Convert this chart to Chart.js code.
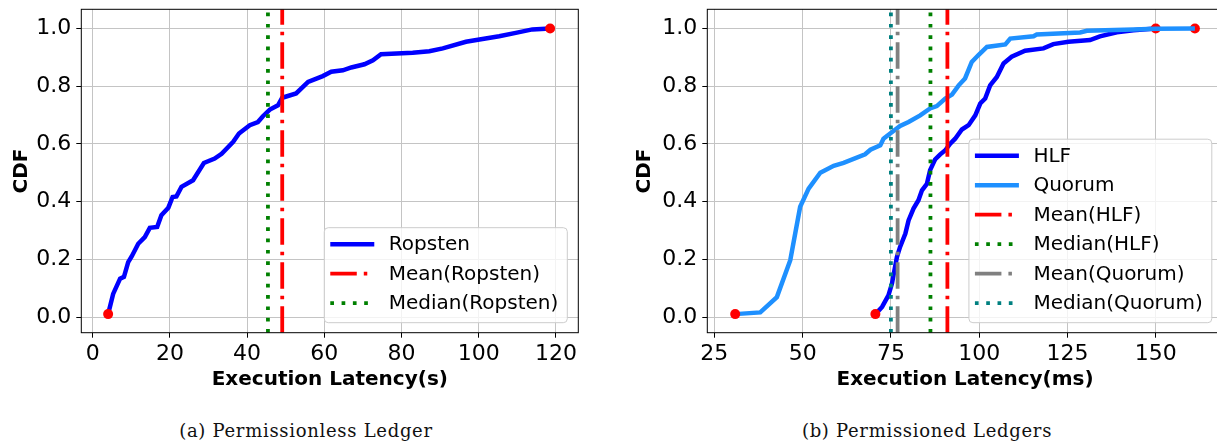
<!DOCTYPE html>
<html>
<head>
<meta charset="utf-8">
<script src="https://cdn.jsdelivr.net/npm/chart.js@4.4.4/dist/chart.umd.min.js"></script>
<style>
  html, body { margin: 0; padding: 0; background: #fff; overflow: hidden; width: 1217px; height: 445px; }
  canvas { position: absolute; top: 0; }
  #cA { left: 0; }
  #cB { left: 620px; }
  .cap { position: absolute; top: 420px; font-family: "DejaVu Serif", serif; font-size: 18px; letter-spacing: 0.7px; color: #111; white-space: nowrap; transform: translateX(-50%); }
</style>
</head>
<body>
<canvas id="cA" width="600" height="400"></canvas>
<canvas id="cB" width="620" height="400"></canvas>
<div class="cap" style="left:306px">(a) Permissionless Ledger</div>
<div class="cap" style="left:927px">(b) Permissioned Ledgers</div>
<script>
// ---- data ----
const ropX = [4.0, 5.3, 7.1, 8.1, 9.2, 10.1, 11.8, 13.5, 14.8, 16.7, 17.8, 19.6, 20.7, 21.7, 23.0, 26.0, 28.8, 31.6, 33.4, 36.4, 37.9, 40.7, 42.8, 44.1, 45.9, 48.0, 49.1, 52.7, 55.8, 59.6, 61.8, 64.8, 67.0, 70.4, 72.6, 74.7, 82.9, 87.2, 90.7, 96.7, 100.2, 105.3, 109.6, 113.9, 118.5];
const ropY = [0.01, 0.08, 0.133, 0.139, 0.19, 0.21, 0.254, 0.277, 0.309, 0.312, 0.353, 0.379, 0.416, 0.418, 0.451, 0.474, 0.534, 0.549, 0.566, 0.607, 0.636, 0.665, 0.676, 0.696, 0.719, 0.734, 0.760, 0.775, 0.815, 0.835, 0.850, 0.855, 0.865, 0.876, 0.890, 0.911, 0.916, 0.921, 0.931, 0.954, 0.962, 0.973, 0.985, 0.997, 1.0];
const ropMean = 49.1;
const ropMedian = 45.4;
const ropDotX = [4.0, 118.5];
const ropDotY = [0.01, 1.0];

const hlfX = [70.6, 72.5, 74.3, 75.3, 76.7, 77.6, 79.1, 80.0, 81.4, 82.8, 83.8, 85.2, 86.1, 87.5, 88.9, 90.4, 91.8, 93.2, 95.1, 97.0, 98.9, 100.3, 101.7, 103.1, 105.0, 106.9, 109.2, 113.0, 118.2, 121.0, 125.3, 131.4, 134.2, 139.0, 143.7, 150.0];
const hlfY = [0.01, 0.035, 0.075, 0.116, 0.208, 0.243, 0.289, 0.335, 0.376, 0.405, 0.439, 0.462, 0.509, 0.546, 0.563, 0.578, 0.601, 0.618, 0.650, 0.665, 0.699, 0.740, 0.757, 0.803, 0.832, 0.879, 0.902, 0.923, 0.931, 0.946, 0.954, 0.960, 0.973, 0.987, 0.994, 1.0];
const quoX = [30.9, 38.0, 42.7, 46.5, 49.3, 51.7, 55.0, 58.8, 61.6, 67.7, 69.2, 72.0, 72.9, 74.8, 77.6, 80.0, 83.3, 86.1, 88.0, 90.4, 92.3, 94.2, 96.0, 97.9, 99.8, 102.2, 107.4, 108.8, 115.4, 116.3, 128.6, 130.5, 143.7, 150.0, 161.1];
const quoY = [0.01, 0.016, 0.069, 0.197, 0.382, 0.445, 0.50, 0.524, 0.534, 0.564, 0.580, 0.595, 0.618, 0.636, 0.662, 0.676, 0.699, 0.723, 0.731, 0.757, 0.771, 0.803, 0.827, 0.884, 0.908, 0.936, 0.945, 0.965, 0.973, 0.979, 0.986, 0.992, 0.997, 0.999, 1.0];
const hlfMean = 91.0;
const hlfMedian = 86.2;
const quoMean = 76.9;
const quoMedian = 75.0;
const lowDotX = [30.9, 70.6];
const lowDotY = [0.01, 0.01];
const topDotX = [150.0, 161.1];
const topDotY = [1.0, 1.0];

const xTicksA = [0, 20, 40, 60, 80, 100, 120];
const xTicksB = [25, 50, 75, 100, 125, 150];
const yTicks = [0.0, 0.2, 0.4, 0.6, 0.8, 1.0];
const yMin = -0.0544, yMax = 1.0666;

// ---- helpers ----
Chart.defaults.font.family = '"DejaVu Sans", sans-serif';
Chart.defaults.color = '#000';

const pts = (xs, ys) => xs.map((x, i) => ({ x: x, y: ys[i] }));
const vline = x => [{ x: x, y: yMin }, { x: x, y: yMax }];

const DASHDOT = [26.5, 7, 3.5, 7];
const DOTTED = [3.7, 7.6];

function curve(label, data, color, order) {
  return { label, data, borderColor: color, backgroundColor: color, borderWidth: 4.5, showLine: true, pointRadius: 0, order };
}
function marker(label, x, color, dash, order) {
  return { label, data: vline(x), borderColor: color, backgroundColor: color, borderWidth: 3.8, borderDash: dash, showLine: true, pointRadius: 0, clip: 0, order };
}
function dots(data, order) {
  return { data, showLine: false, pointRadius: 5, pointHoverRadius: 5, pointBackgroundColor: 'red', pointBorderColor: 'red', pointBorderWidth: 0, order };
}

// matplotlib-like legend box inside the plot + full axes frame
const frameLegend = {
  id: 'frameLegend',
  afterDatasetsDraw(chart) {
    const { ctx, chartArea: a } = chart;
    const items = chart.data.datasets.filter(d => d.label);
    ctx.save();
    ctx.font = '20px "DejaVu Sans"';
    const rowH = 29.5, handle = 44, pad = 6, gap = 14.5;
    const textW = Math.max(...items.map(d => ctx.measureText(d.label).width));
    const w = pad + handle + gap + textW + 9;
    const h = items.length * rowH + 6.5;
    const x0 = a.right - 11 - w, y0 = a.bottom - 10 - h;
    ctx.beginPath();
    ctx.roundRect(x0, y0, w, h, 4);
    ctx.fillStyle = 'rgba(255,255,255,0.8)';
    ctx.fill();
    ctx.strokeStyle = '#cccccc';
    ctx.lineWidth = 1;
    ctx.stroke();
    items.forEach((d, i) => {
      const cy = y0 + 16.5 + i * rowH;
      ctx.beginPath();
      ctx.setLineDash(d.borderDash || []);
      ctx.lineWidth = d.borderWidth;
      ctx.strokeStyle = d.borderColor;
      ctx.moveTo(x0 + pad, cy);
      ctx.lineTo(x0 + pad + handle, cy);
      ctx.stroke();
      ctx.setLineDash([]);
      ctx.fillStyle = '#000';
      ctx.textBaseline = 'middle';
      ctx.fillText(d.label, x0 + pad + handle + gap, cy + 1);
    });
    ctx.strokeStyle = '#000';
    ctx.lineWidth = 1;
    ctx.strokeRect(a.left, a.top, a.width, a.height);
    ctx.restore();
  }
};

function makeChart(id, datasets, xMin, xMax, xTicks, xTitle, yWidth, yTitlePad, rightPad) {
  return new Chart(document.getElementById(id), {
    type: 'scatter',
    data: { datasets },
    options: {
      responsive: false,
      animation: false,
      layout: { padding: { top: 9.3, right: rightPad, left: 0, bottom: 0 } },
      plugins: { legend: { display: false }, tooltip: { enabled: false } },
      elements: { line: { tension: 0 } },
      scales: {
        x: {
          type: 'linear', min: xMin, max: xMax,
          afterBuildTicks: s => { s.ticks = xTicks.map(v => ({ value: v })); },
          afterFit: s => { s.height = 67.3; s.paddingLeft = 0; s.paddingRight = 0; },
          ticks: { font: { size: 22 }, padding: 3, maxRotation: 0, callback: v => String(v) },
          grid: { color: '#c4c4c4', lineWidth: 1, tickLength: 5, tickColor: '#000' },
          border: { display: false },
          title: { display: true, text: xTitle, font: { size: 20, weight: 'bold' }, padding: { top: 0, bottom: 8 } }
        },
        y: {
          type: 'linear', min: yMin, max: yMax,
          afterBuildTicks: s => { s.ticks = yTicks.map(v => ({ value: v })); },
          afterFit: s => { s.width = yWidth; s.paddingTop = 0; s.paddingBottom = 0; },
          ticks: { font: { size: 22 }, padding: 5, callback: v => v.toFixed(1) },
          grid: { color: '#c4c4c4', lineWidth: 1, tickLength: 5, tickColor: '#000' },
          border: { display: false },
          title: { display: true, text: 'CDF', font: { size: 20, weight: 'bold' }, padding: { top: yTitlePad, bottom: 0 } }
        }
      }
    },
    plugins: [frameLegend]
  });
}

makeChart('cA', [
  curve('Ropsten', pts(ropX, ropY), 'blue', 5),
  marker('Mean(Ropsten)', ropMean, 'red', DASHDOT, 3),
  marker('Median(Ropsten)', ropMedian, 'green', DOTTED, 2),
  dots(pts(ropDotX, ropDotY), 1)
], -2.95, 125.8, xTicksA, 'Execution Latency(s)', 81.3, 10, 21.7);

makeChart('cB', [
  curve('HLF', pts(hlfX, hlfY), 'blue', 8),
  curve('Quorum', pts(quoX, quoY), '#1e90ff', 6),
  marker('Mean(HLF)', hlfMean, 'red', DASHDOT, 4),
  marker('Median(HLF)', hlfMedian, 'green', DOTTED, 3),
  marker('Mean(Quorum)', quoMean, 'grey', DASHDOT, 2),
  marker('Median(Quorum)', quoMedian, 'teal', DOTTED, 1),
  dots(pts(topDotX, topDotY), 7),
  dots(pts(lowDotX, lowDotY), 5)
], 23.0, 169.0, xTicksB, 'Execution Latency(ms)', 87.3, 13, 17.2);
</script>
</body>
</html>
